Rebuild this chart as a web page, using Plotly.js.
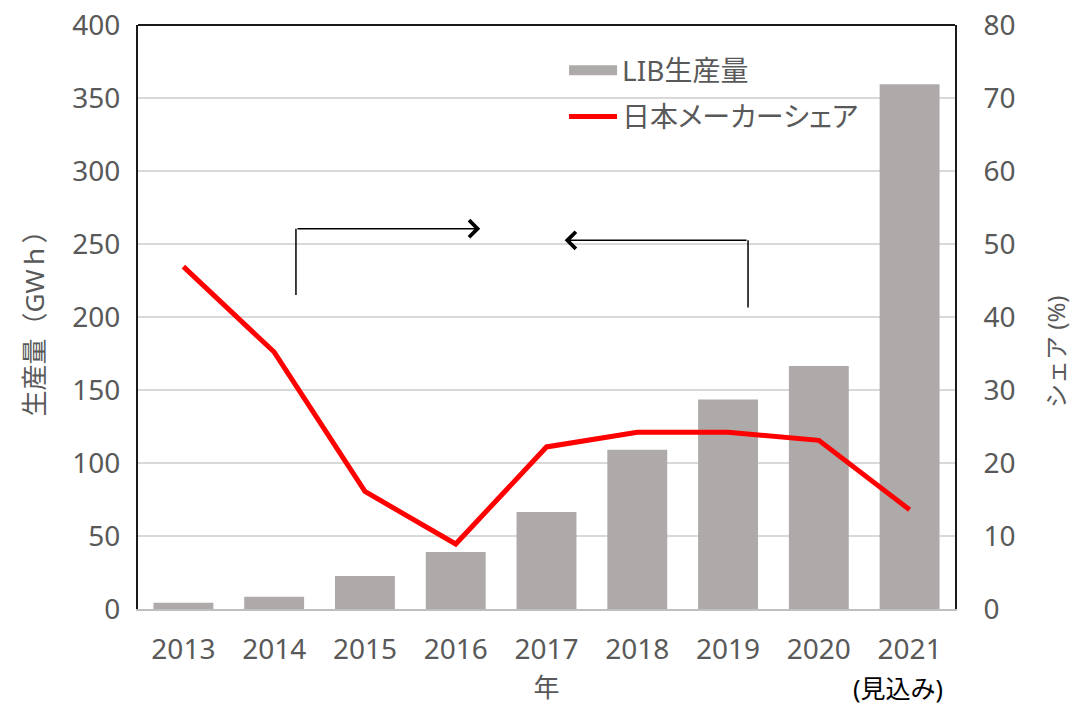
<!DOCTYPE html>
<html>
<head>
<meta charset="utf-8">
<script src="https://cdn.plot.ly/plotly-3.0.1.min.js"></script>
<style>
html,body{margin:0;padding:0;background:#fff;}
#chart{width:1071px;height:705px;}
#chart .legendtext{font-feature-settings:"palt";}
</style>
</head>
<body>
<div id="chart"></div>
<script>
// Data
const years = ["2013","2014","2015","2016","2017","2018","2019","2020","2021"];
const libProduction = [4.3, 8.4, 22.6, 39, 66.5, 109, 143.5, 166.5, 359.5];
const japanShare = [46.9, 35.2, 16.1, 8.9, 22.2, 24.2, 24.2, 23.1, 13.6];
const seriesNames = ["LIB生産量", "日本メーカーシェア"];
const leftTitle = "生産量（GWｈ）";
const rightTitle = "シェア (%)";
const xTitle = "年";
const forecastNote = "(見込み)";

const font = "Noto Sans, Noto Sans CJK JP, DejaVu Sans, sans-serif";
const gray = "#595959";
const barColor = "#aeaaaa";

const traces = [
  {
    type: "bar", x: years, y: libProduction, name: seriesNames[0],
    marker: {color: barColor}, showlegend: false
  },
  // legend key for the bars (wide rectangle, as in the reference)
  {
    type: "scatter", mode: "lines", x: years, y: years.map(() => null), name: seriesNames[0],
    line: {color: barColor, width: 15}, legendgroup: "a"
  },
  {
    type: "scatter", mode: "lines", x: years, y: japanShare, name: seriesNames[1],
    yaxis: "y2", line: {color: "#ff0000", width: 5}, legendgroup: "b"
  }
];

const layout = {
  width: 1071, height: 705,
  margin: {l: 138, r: 116, t: 25, b: 96},
  paper_bgcolor: "#fff", plot_bgcolor: "#fff",
  font: {family: font, color: gray, size: 28},
  bargap: 0.34,
  showlegend: true,
  hovermode: false,
  legend: {
    x: 0.5215, y: 0.965, xanchor: "left", yanchor: "top",
    bgcolor: "rgba(0,0,0,0)", font: {size: 28, color: gray},
    tracegroupgap: 7, traceorder: "grouped", itemwidth: 48
  },
  xaxis: {
    type: "category", showgrid: false, showline: true, linecolor: "#bfbfbf", linewidth: 1.5,
    ticks: "", ticklabelstandoff: 15, tickfont: {size: 28, color: gray},
    title: {text: xTitle, font: {size: 26, color: gray}, standoff: 24}
  },
  yaxis: {
    range: [0, 400], dtick: 50, showgrid: true, gridcolor: "#d9d9d9", gridwidth: 1.5,
    showline: true, linecolor: "#1a1a1a", linewidth: 2, zeroline: false,
    ticks: "", ticklabelstandoff: 10, tickfont: {size: 28, color: gray},
    title: {text: leftTitle, font: {size: 26, color: gray}, standoff: 20}
  },
  yaxis2: {
    overlaying: "y", side: "right", range: [0, 80], dtick: 10, showgrid: false,
    showline: true, linecolor: "#1a1a1a", linewidth: 2, zeroline: false,
    ticks: "", ticklabelstandoff: 21, tickfont: {size: 28, color: gray}
  },
  shapes: [
    {type: "line", xref: "paper", yref: "paper", x0: 0, x1: 1, y0: 1, y1: 1, line: {color: "#1a1a1a", width: 2}},
    {type: "line", xref: "x", yref: "y", x0: 1.24, x1: 1.24, y0: 215, y1: 260.5, line: {color: "#000", width: 1.5}},
    {type: "line", xref: "x", yref: "y", x0: 6.22, x1: 6.22, y0: 206.5, y1: 252.5, line: {color: "#000", width: 1.5}}
  ],
  annotations: [
    {xref: "x", yref: "y", axref: "x", ayref: "y", x: 3.27, y: 260.5, ax: 1.24, ay: 260.5,
     text: "", showarrow: true, arrowhead: 4, arrowsize: 2.2, arrowwidth: 1.5, arrowcolor: "#000"},
    {xref: "x", yref: "y", axref: "x", ayref: "y", x: 4.2, y: 252.5, ax: 6.22, ay: 252.5,
     text: "", showarrow: true, arrowhead: 4, arrowsize: 2.2, arrowwidth: 1.5, arrowcolor: "#000"},
    {xref: "x", yref: "paper", x: 8, y: 0, yshift: -79, xshift: -12, yanchor: "middle", text: forecastNote,
     showarrow: false, font: {size: 25, color: "#000"}},
    {xref: "paper", yref: "paper", x: 1.1224, y: 0.44, xanchor: "center", yanchor: "middle",
     textangle: -90, text: rightTitle, showarrow: false, font: {size: 24, color: gray}}
  ]
};

Plotly.newPlot("chart", traces, layout, {staticPlot: true, displayModeBar: false});
</script>
</body>
</html>
